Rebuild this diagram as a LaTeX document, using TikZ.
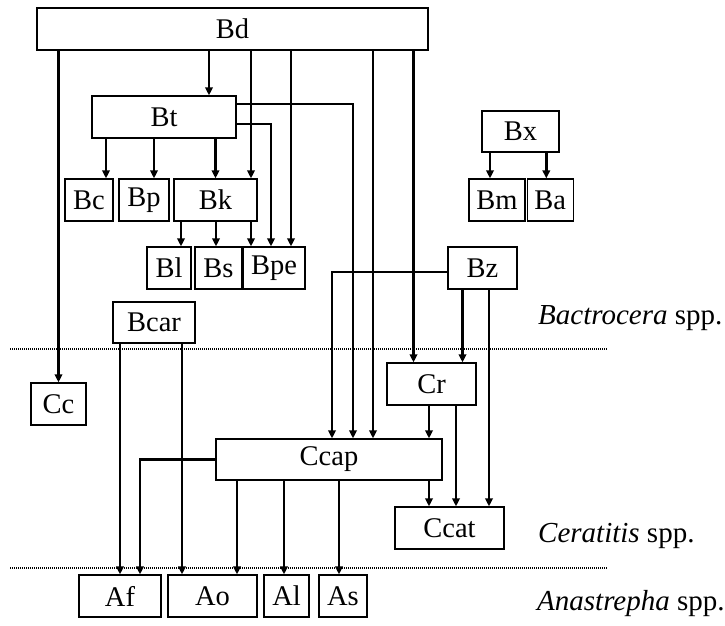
\documentclass[tikz,border=0pt]{standalone}
\usepackage{fontspec}
\setmainfont{Liberation Serif}
\usetikzlibrary{arrows.meta, positioning}

\begin{document}
\begin{tikzpicture}[
    x=1pt, y=-1pt,
    box/.style={rectangle, draw, line width=1.3pt, inner sep=0pt, minimum height=42pt, fill=white, font=\fontsize{28.5}{31}\selectfont},
    arrow/.style={-{Triangle[length=8pt, width=7.5pt]}, line width=2.8pt},
    sep/.style={line width=1.2pt, dash pattern=on 1pt off 1pt, draw=black},
    genus/.style={anchor=base west, inner sep=0pt, font=\fontsize{29}{32}\selectfont}
]
\useasboundingbox (0,0) rectangle (725,626);

% 1. Bactrocera nodes
\node[box, minimum width=391pt] (bd) at (232.5,29) {Bd};
\node[box, minimum width=144pt] (bt) at (164,117) {Bt};
\node[box, minimum width=48pt] (bc) at (89,200) {Bc};
\node[box, minimum width=50pt] (bp) at (144,200) {Bp};
\node[box, minimum width=83pt] (bk) at (215.5,200) {Bk};
\node[box, minimum width=44pt] (bl) at (169,268) {Bl};
\node[box, minimum width=47pt] (bs) at (218.5,268) {Bs};
\node[box, minimum width=62pt] (bpe) at (274,268) {Bpe};
\node[box, minimum width=77pt, minimum height=41pt] (bx) at (520.5,131.5) {Bx};
\node[box, minimum width=56pt] (bm) at (497,200) {Bm};
\node[box, minimum width=46pt, right=1pt of bm] (ba) {Ba};
\node[box, minimum width=69pt] (bz) at (482.5,268) {Bz};
\node[box, minimum width=82pt, minimum height=41pt] (bcar) at (154,322.5) {Bcar};

% 2. Ceratitis nodes
\node[box, minimum width=55pt] (cc) at (58.5,404) {Cc};
\node[box, minimum width=89pt] (cr) at (431.5,384) {Cr};
\node[box, minimum width=226pt, minimum height=41pt] (ccap) at (329,459.5) {Ccap};
\node[box, minimum width=109pt] (ccat) at (449.5,528) {Ccat};

% 3. Anastrepha nodes
\node[box, minimum width=82pt] (af) at (120,596) {Af};
\node[box, minimum width=89pt] (ao) at (212.5,596) {Ao};
\node[box, minimum width=45pt] (al) at (286.5,596) {Al};
\node[box, minimum width=48pt] (as) at (343,596) {As};

% 4. Separators and genus labels
\draw[sep] (10,349) -- (607,349);
\draw[sep] (10,568) -- (607,568);
\node[genus] (lbact) at (538,324) {\textit{Bactrocera} spp.};
\node[genus] (lcer) at (538,542) {\textit{Ceratitis} spp.};
\node[genus] (lana) at (537,610) {\textit{Anastrepha} spp.};

% 5. Connections from Bd
\draw[arrow] (cc.north |- bd.south) -- (cc.north);
\draw[arrow] ([xshift=45pt]bt.north |- bd.south) -- ([xshift=45pt]bt.north);
\draw[arrow] ([xshift=35.5pt]bk.north |- bd.south) -- ([xshift=35.5pt]bk.north);
\draw[arrow] ([xshift=17pt]bpe.north |- bd.south) -- ([xshift=17pt]bpe.north);
\draw[arrow] ([xshift=44pt]ccap.north |- bd.south) -- ([xshift=44pt]ccap.north);
\draw[arrow] ([xshift=-18pt]cr.north |- bd.south) -- ([xshift=-18pt]cr.north);

% Bt connections
\draw[arrow] ([xshift=17pt]bc.north |- bt.south) -- ([xshift=17pt]bc.north);
\draw[arrow] ([xshift=10pt]bp.north |- bt.south) -- ([xshift=10pt]bp.north);
\draw[arrow] (bk.north |- bt.south) -- (bk.north);
\draw[arrow] ([yshift=13pt]bt.east) -| ([xshift=24pt]ccap.north);
\draw[arrow] ([yshift=-7pt]bt.east) -| ([xshift=-3pt]bpe.north);

% Bk connections
\draw[arrow] ([xshift=12pt]bl.north |- bk.south) -- ([xshift=12pt]bl.north);
\draw[arrow] ([xshift=-2.5pt]bs.north |- bk.south) -- ([xshift=-2.5pt]bs.north);
\draw[arrow] ([xshift=-23pt]bpe.north |- bk.south) -- ([xshift=-23pt]bpe.north);

% Bx connections
\draw[arrow] ([xshift=-7pt]bm.north |- bx.south) -- ([xshift=-7pt]bm.north);
\draw[arrow] ([xshift=-4pt]ba.north |- bx.south) -- ([xshift=-4pt]ba.north);

% Bz connections
\draw[arrow] ([yshift=-4pt]bz.west) -| ([xshift=3pt]ccap.north);
\draw[arrow] ([xshift=31pt]cr.north |- bz.south) -- ([xshift=31pt]cr.north);
\draw[arrow] ([xshift=39.5pt]ccat.north |- bz.south) -- ([xshift=39.5pt]ccat.north);

% Bcar connections
\draw[arrow] (af.north |- bcar.south) -- (af.north);
\draw[arrow] ([xshift=-30.5pt]ao.north |- bcar.south) -- ([xshift=-30.5pt]ao.north);

% Cr connections
\draw[arrow] ([xshift=100pt]ccap.north |- cr.south) -- ([xshift=100pt]ccap.north);
\draw[arrow] ([xshift=6.5pt]ccat.north |- cr.south) -- ([xshift=6.5pt]ccat.north);

% Ccap connections
\draw[arrow] (ccap.west) -| ([xshift=20pt]af.north);
\draw[arrow] ([xshift=24.5pt]ao.north |- ccap.south) -- ([xshift=24.5pt]ao.north);
\draw[arrow] ([xshift=-2.5pt]al.north |- ccap.south) -- ([xshift=-2.5pt]al.north);
\draw[arrow] ([xshift=-4pt]as.north |- ccap.south) -- ([xshift=-4pt]as.north);
\draw[arrow] ([xshift=-20.5pt]ccat.north |- ccap.south) -- ([xshift=-20.5pt]ccat.north);

\end{tikzpicture}
\end{document}
